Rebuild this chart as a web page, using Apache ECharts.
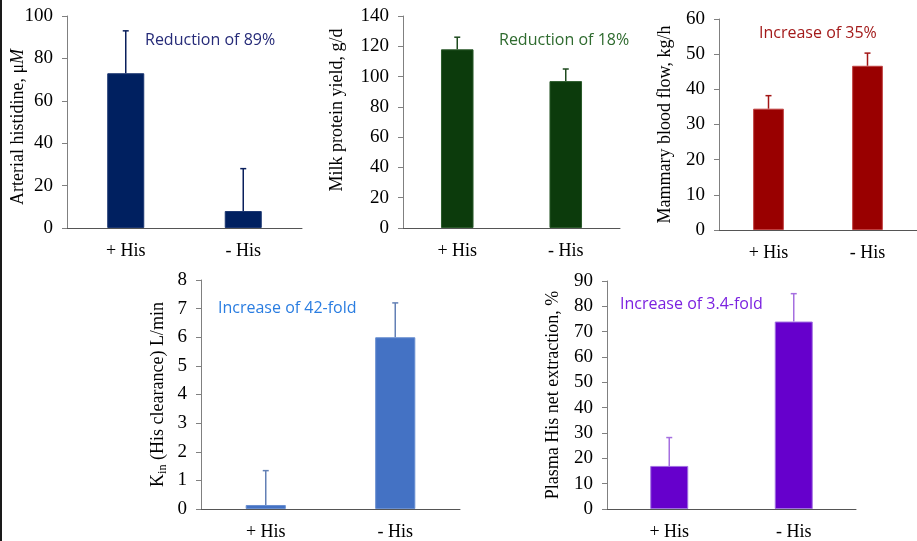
<!DOCTYPE html>
<html>
<head>
<meta charset="utf-8">
<script src="https://cdn.jsdelivr.net/npm/echarts@6/dist/echarts.min.js"></script>
<style>
html,body{margin:0;padding:0;background:#fff;}
#chart{width:917px;height:541px;}
</style>
</head>
<body>
<div id="chart"></div>
<script>
// ---- data ----
const categories = ['+ His', '- His'];
const arterialHis = [73, 8];
const arterialHisSD = [20, 20];
const milkProtein = [118, 97];
const milkProteinSD = [8, 8];
const bloodFlow = [34.5, 46.7];
const bloodFlowSD = [3.7, 3.6];
const kinClearance = [0.14, 6.0];
const kinClearanceSD = [1.2, 1.2];
const netExtraction = [17, 74];
const netExtractionSD = [11.2, 11];
const annotations = ['Reduction of 89%', 'Reduction of 18%', 'Increase of 35%', 'Increase of 42-fold', 'Increase of 3.4-fold'];

const SERIF = '"Liberation Serif", "Times New Roman", serif';
const SANS = '"Open Sans", "Noto Sans", sans-serif';

const panels = [
  {vals: arterialHis, sd: arterialHisSD, max: 100, interval: 20, bar: '#002060', err: '#0A1F5C', border: '#1a3570', bw: '31.5%',
   grid: {left: 67, top: 16, width: 235, height: 212}, name: '{n|Arterial histidine, μ}{i|M}', gap: 38, pad: [0, 10, 0, 0],
   ann: {x: 145, y: 40, color: '#262B78'}},
  {vals: milkProtein, sd: milkProteinSD, max: 140, interval: 20, bar: '#0C3B0C', err: '#1E4A1E', border: '#2a5a2a', bw: '30%',
   grid: {left: 403, top: 16, width: 217, height: 212}, name: '{n|Milk protein yield, g/d}', gap: 55, pad: [0, 0, 0, 24],
   ann: {x: 499, y: 40, color: '#2F6B2F'}},
  {vals: bloodFlow, sd: bloodFlowSD, max: 60, interval: 10, bar: '#990000', err: '#A31515', border: '#c04040', bw: '31%',
   grid: {left: 719, top: 19, width: 207, height: 211}, name: '{n|Mammary blood flow, kg/h}', gap: 43, pad: [0, 0, 0, 0],
   ann: {x: 759, y: 33, color: '#A31A1A'}},
  {vals: kinClearance, sd: kinClearanceSD, max: 8, interval: 1, bar: '#4472C4', err: '#6380B5', border: '#6a8fd0', bw: '31%',
   grid: {left: 201, top: 280, width: 259, height: 231}, name: '{n|K}{s|in}{n| (His clearance) L/min}', gap: 32, pad: [0, 0, 0, 0],
   ann: {x: 218, y: 308, color: '#2A7DE1'}},
  {vals: netExtraction, sd: netExtractionSD, max: 90, interval: 10, bar: '#6600CC', err: '#A56FE0', border: '#a070e0', bw: '30.5%',
   grid: {left: 607, top: 281, width: 249, height: 230}, name: '{n|Plasma His net extraction, %}', gap: 43, pad: [0, 0, 0, 0],
   ann: {x: 620, y: 304, color: '#7B22E0'}}
];

const grids = [], xAxes = [], yAxes = [], series = [], graphics = [];

panels.forEach((p, k) => {
  grids.push(Object.assign({containLabel: false}, p.grid));
  xAxes.push({
    type: 'category', gridIndex: k, data: categories,
    axisLine: {lineStyle: {color: '#555555', width: 1}},
    axisTick: {show: false},
    axisLabel: {color: '#000', fontFamily: SERIF, fontSize: 18, margin: 14}
  });
  yAxes.push({
    type: 'value', gridIndex: k, min: 0, max: p.max, interval: p.interval,
    splitLine: {show: false},
    axisLine: {show: true, lineStyle: {color: '#808080', width: 1}},
    axisTick: {show: true, length: 5, lineStyle: {color: '#808080'}},
    axisLabel: {color: '#000', fontFamily: SERIF, fontSize: 19, margin: 14},
    name: p.name, nameLocation: 'middle', nameRotate: 90, nameGap: p.gap,
    nameMoveOverlap: false,
    nameTextStyle: {
      color: '#000', fontFamily: SERIF, fontSize: 18, padding: p.pad,
      rich: {
        n: {fontFamily: SERIF, fontSize: 18, color: '#000', lineHeight: 22},
        i: {fontFamily: SERIF, fontSize: 18, color: '#000', fontStyle: 'italic', lineHeight: 22},
        s: {fontFamily: SERIF, fontSize: 12, color: '#000', verticalAlign: 'bottom', lineHeight: 22, padding: [8, 0, 0, 0]}
      }
    }
  });
  series.push({
    type: 'bar', xAxisIndex: k, yAxisIndex: k, data: p.vals, barWidth: p.bw,
    itemStyle: {color: p.bar, borderColor: p.border, borderWidth: 1},
    silent: true, z: 2
  });
  const errData = p.vals.map((v, i) => [i, v, v + p.sd[i]]);
  const errColor = p.err;
  series.push({
    type: 'custom', xAxisIndex: k, yAxisIndex: k, data: errData, z: 3, silent: true,
    renderItem: function (params, api) {
      const lo = api.coord([api.value(0), api.value(1)]);
      const hi = api.coord([api.value(0), api.value(2)]);
      return {
        type: 'group',
        children: [
          {type: 'line', shape: {x1: lo[0], y1: lo[1], x2: hi[0], y2: hi[1]}, style: {stroke: errColor, lineWidth: 1.5}},
          {type: 'line', shape: {x1: hi[0] - 3, y1: hi[1], x2: hi[0] + 3, y2: hi[1]}, style: {stroke: errColor, lineWidth: 1.5}}
        ]
      };
    }
  });
  graphics.push({
    type: 'text', left: p.ann.x, top: p.ann.y - 8,
    style: {text: annotations[k], fill: p.ann.color, font: '16px ' + SANS}
  });
});

graphics.push({type: 'rect', left: 0, top: 0, shape: {width: 2, height: 541}, style: {fill: '#1a1a1a'}});

const chart = echarts.init(document.getElementById('chart'), null, {renderer: 'canvas'});
chart.setOption({
  animation: false,
  backgroundColor: '#ffffff',
  grid: grids,
  xAxis: xAxes,
  yAxis: yAxes,
  series: series,
  graphic: graphics
});
</script>
</body>
</html>
